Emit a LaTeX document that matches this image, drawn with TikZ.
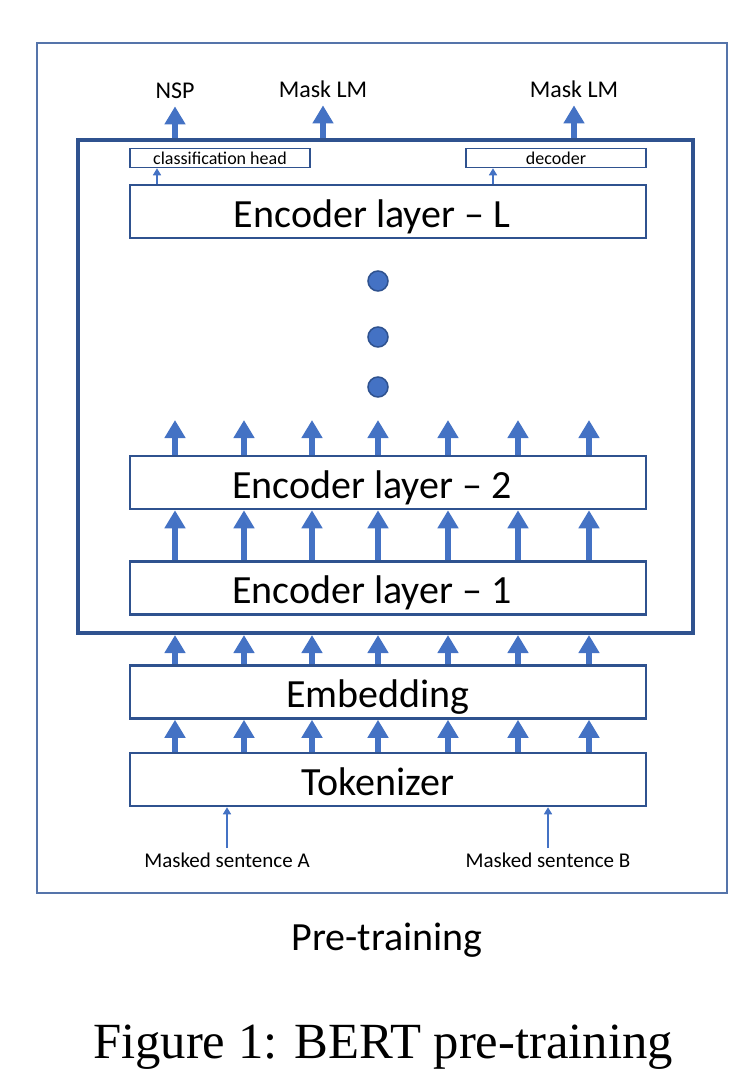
\documentclass[tikz,border=0pt]{standalone}
\usepackage{fontspec}
\setmainfont{Carlito}
\newfontfamily\captionfont{Liberation Serif}
\usetikzlibrary{arrows.meta}
\definecolor{boxblue}{HTML}{2F528F}
\definecolor{arrowblue}{HTML}{4472C4}
\definecolor{frameblue}{HTML}{5574AA}
\begin{document}
\begin{tikzpicture}
[
x=1pt, y=-1pt,
layerbox/.style={rectangle, draw=boxblue, line width=2.5pt, minimum width=516pt, minimum height=53pt, inner sep=0, text height=31pt, text depth=0pt, font=\fontsize{40}{48}\selectfont},
headbox/.style={rectangle, draw=boxblue, line width=1.5pt, minimum width=180pt, minimum height=19pt, inner sep=0, font=\fontsize{18}{20}\selectfont},
fatarrow/.style={draw=arrowblue, line width=6.5pt, -{Triangle[width=20pt,length=18pt]}},
thinarrow/.style={draw=arrowblue, line width=1.5pt, -{Triangle[width=8pt,length=7pt]}},
outlabel/.style={font=\fontsize{24}{28}\selectfont, anchor=base, inner xsep=0, inner ysep=8pt},
inlabel/.style={font=\fontsize{21}{24}\selectfont, anchor=base, inner xsep=0, inner ysep=4pt},
layerdot/.style={circle, fill=arrowblue, draw=boxblue, line width=1.5pt, minimum size=20pt, inner sep=0}
]
\useasboundingbox (0,0) rectangle (752,1092);

%Frames
\node[draw=frameblue, line width=1.5pt, minimum width=690pt, minimum height=850pt, inner sep=0] at(382,468)	(frame) {};
\node[draw=boxblue, line width=4pt, minimum width=615pt, minimum height=493pt, inner sep=0] at(385.5,386.5)	(encstack) {};

%Nodes
\node[layerbox] at(388,211.5)		(encL) {Encoder layer – L\hspace*{32pt}};
\node[layerbox] at(388,482.5)		(enc2) {Encoder layer – 2\hspace*{32pt}};
\node[layerbox] at(388,588)		(enc1) {Encoder layer – 1\hspace*{32pt}};
\node[layerbox] at(388,692)		(embed) {Embedding\hspace*{20pt}};
\node[layerbox] at(388,779.5)		(tok) {Tokenizer\hspace*{20pt}};
\node[headbox] at(220,158)		(chead) {classification head};
\node[headbox] at(556,158)		(dec) {decoder};
\node[layerdot] at(378,281)		(d1) {};
\node[layerdot] at(378,337)		(d2) {};
\node[layerdot] at(378,387)		(d3) {};
\node[outlabel]	(nsp) at(175,98) {NSP};
\node[outlabel]	(mlmA) at(323,97) {Mask LM};
\node[outlabel]	(mlmB) at(574,97) {Mask LM};
\node[inlabel]	(sa) at(227,867) {Masked sentence A};
\node[inlabel]	(sb) at(548,867) {Masked sentence B};
\node[font=\fontsize{40}{46}\selectfont, anchor=base]	(phase) at(387,950) {Pre-training};
\node[font=\captionfont\fontsize{50.7}{56}\selectfont, anchor=base]	(caption) at(383,1058) {Figure 1: BERT pre-training};

%Columns
\foreach \x [count=\i] in {175,244,312,378,448,518,589}
	\coordinate (col\i) at(\x,0);
\coordinate (tipline) at(0,420);
\coordinate (hA) at(157,0);
\coordinate (hB) at(493,0);

%Arrows
\foreach \i in {1,...,7}{
	\draw[fatarrow] (tok.north -| col\i) -- (embed.south -| col\i);
	\draw[fatarrow] (embed.north -| col\i) -- (encstack.south -| col\i);
	\draw[fatarrow] (enc1.north -| col\i) -- (enc2.south -| col\i);
	\draw[fatarrow] (enc2.north -| col\i) -- (tipline -| col\i);
}
\draw[fatarrow] (encstack.north -| nsp.south) -- (nsp.south);
\draw[fatarrow] (encstack.north -| mlmA.south) -- (mlmA.south);
\draw[fatarrow] (encstack.north -| mlmB.south) -- (mlmB.south);
\draw[thinarrow] (encL.north -| hA) -- (chead.south -| hA);
\draw[thinarrow] (encL.north -| hB) -- (dec.south -| hB);
\draw[thinarrow] (sa.north) -- (tok.south -| sa.north);
\draw[thinarrow] (sb.north) -- (tok.south -| sb.north);

\end{tikzpicture}
\end{document}
